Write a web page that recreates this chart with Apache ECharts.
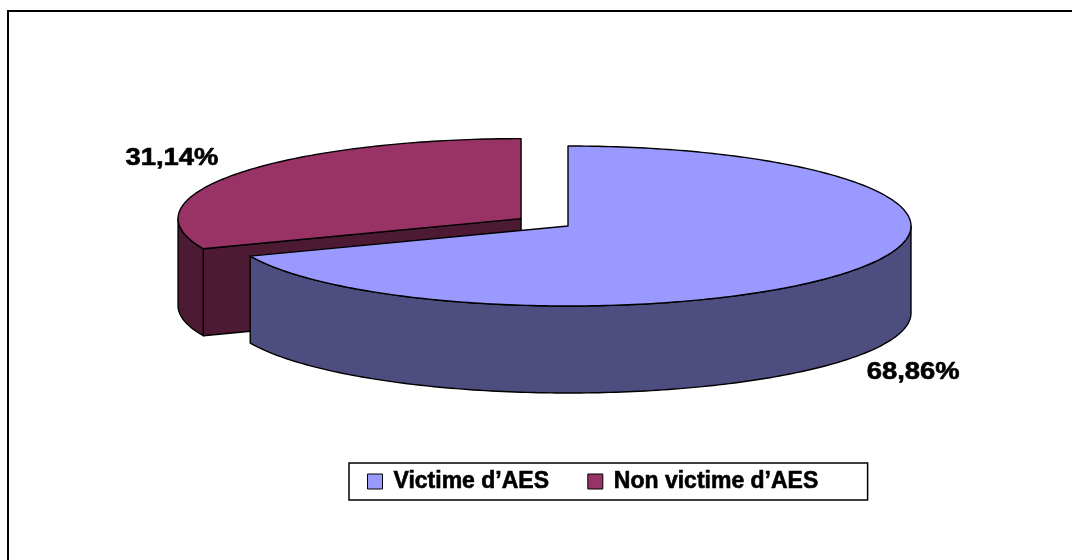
<!DOCTYPE html>
<html>
<head>
<meta charset="utf-8">
<script src="https://cdn.jsdelivr.net/npm/echarts@6/dist/echarts.min.js"></script>
<style>
  html, body { margin: 0; padding: 0; background: #fff; }
  #chart { width: 1072px; height: 560px; }
</style>
</head>
<body>
<div id="chart"></div>
<script>
// Categories and their shares (percent)
const categories = ['Victime d’AES', 'Non victime d’AES'];
const shares = [68.86, 31.14];

// Face colours: top surface and darker side walls
const topColors = ['#9999FF', '#993366'];
const sideColors = ['#4D4D80', '#4D1A33'];
// Radial pull-out of each slice, as a fraction of the radius
const explode = [0, 0.165];

// Tilted-disc geometry in pixels
const PIE = { cx: 568, cy: 226, rx: 343, ry: 80, depth: 87 };
const LABEL_K = { x: 1.22, y: 1.345 };

const total = shares.reduce((a, b) => a + b, 0);
const startAngles = [];
{
  let acc = 0;
  shares.forEach(v => { startAngles.push(acc / total * 360); acc += v; });
}

const RAD = Math.PI / 180;
// Angles run clockwise from the back (12 o'clock)
const dir = a => [Math.sin(a * RAD), -Math.cos(a * RAD)];

function formatShare(v) {
  return v.toFixed(2).replace('.', ',') + '%';
}

const FONT = '"Liberation Sans", Arial, sans-serif';

function renderSlice(params, api) {
  const i = params.seriesIndex;
  const value = api.value(0);
  const a0 = startAngles[i];
  const a1 = a0 + value / total * 360;
  const mid = (a0 + a1) / 2;
  const md = dir(mid);
  const ox = PIE.cx + md[0] * PIE.rx * explode[i];
  const oy = PIE.cy + md[1] * PIE.ry * explode[i];
  const D = PIE.depth;

  const pt = (a, dy) => {
    const d = dir(a);
    return [ox + d[0] * PIE.rx, oy + d[1] * PIE.ry + (dy || 0)];
  };
  const arc = (from, to, dy) => {
    const n = Math.max(2, Math.ceil(Math.abs(to - from) / 1));
    const out = [];
    for (let k = 0; k <= n; k++) out.push(pt(from + (to - from) * k / n, dy));
    return out;
  };

  const edge = { stroke: '#000', lineWidth: 1.4, lineJoin: 'round' };
  const side = Object.assign({ fill: sideColors[i] }, edge);
  const top = Object.assign({ fill: topColors[i] }, edge);
  const children = [];

  // Cut faces (visible only when turned towards the viewer)
  if (Math.sin(a0 * RAD) < -1e-6) {
    const p = pt(a0);
    children.push({ type: 'polygon', shape: { points: [[ox, oy], p, [p[0], p[1] + D], [ox, oy + D]] }, style: side });
  }
  if (Math.sin(a1 * RAD) > 1e-6) {
    const p = pt(a1);
    children.push({ type: 'polygon', shape: { points: [[ox, oy], p, [p[0], p[1] + D], [ox, oy + D]] }, style: side });
  }
  // Outer wall on the front half
  const w0 = Math.max(a0, 90), w1 = Math.min(a1, 270);
  if (w1 > w0) {
    children.push({ type: 'polygon', shape: { points: arc(w0, w1, 0).concat(arc(w1, w0, D)) }, style: side });
  }
  // Top surface
  children.push({ type: 'polygon', shape: { points: [[ox, oy]].concat(arc(a0, a1, 0)) }, style: top });

  // Percentage label outside the slice
  const lx = ox + md[0] * PIE.rx * LABEL_K.x;
  const ly = oy + md[1] * PIE.ry * LABEL_K.y + (md[1] > 0 ? D : 0);
  children.push({
    type: 'text', x: lx - 2, y: ly, scaleX: 1.19,
    style: {
      text: formatShare(value),
      fill: '#000',
      stroke: '#000',
      lineWidth: 0.6,
      fontFamily: FONT,
      fontWeight: 'bold',
      fontSize: 23,
      align: 'center',
      verticalAlign: 'middle'
    }
  });

  return { type: 'group', children };
}

const chart = echarts.init(document.getElementById('chart'), null, { renderer: 'canvas' });

chart.setOption({
  animation: false,
  backgroundColor: '#fff',
  color: topColors,
  graphic: [{
    type: 'rect', silent: true, z: -10,
    shape: { x: 8, y: 11, width: 1200, height: 700 },
    style: { fill: 'none', stroke: '#000', lineWidth: 2 }
  }],
  legend: {
    data: categories,
    left: 349,
    top: 463,
    orient: 'horizontal',
    icon: 'rect',
    itemWidth: 15,
    itemHeight: 15,
    itemGap: 38,
    padding: [6, 49, 6, 18],
    borderColor: '#000',
    borderWidth: 1.5,
    itemStyle: { borderColor: '#000', borderWidth: 1 },
    textStyle: {
      fontFamily: FONT,
      fontWeight: 'bold',
      fontSize: 23,
      color: '#000',
      lineHeight: 25,
      textBorderColor: '#000',
      textBorderWidth: 0.6,
      padding: [0, 0, 0, 6]
    }
  },
  series: categories.map((name, i) => ({
    type: 'custom',
    name: name,
    coordinateSystem: 'none',
    z: i === 0 ? 3 : 2,
    itemStyle: { color: topColors[i] },
    renderItem: renderSlice,
    data: [[shares[i]]]
  }))
});
</script>
</body>
</html>
